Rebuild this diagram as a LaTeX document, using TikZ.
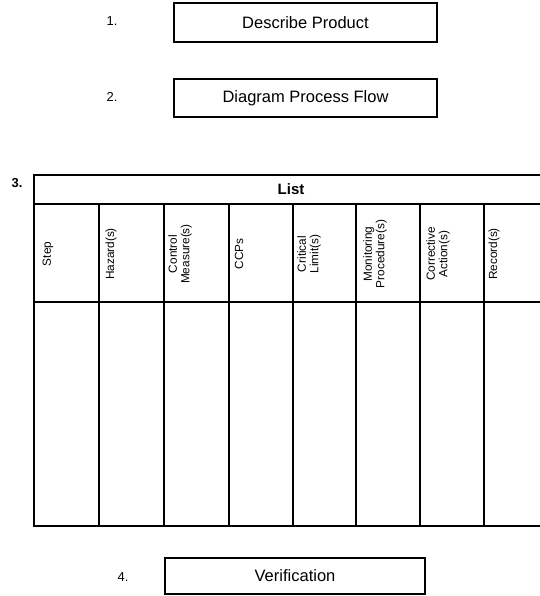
\documentclass[tikz,border=0pt]{standalone}
\usepackage{fontspec}
\setmainfont{Liberation Sans}
\usetikzlibrary{positioning}

\begin{document}
\begin{tikzpicture}[x=1pt,y=-1pt,
  stepbox/.style={draw, line width=2.4pt, inner sep=0pt, font=\fontsize{16.5}{19}\selectfont},
  numlabel/.style={font=\fontsize{13}{15}\selectfont},
  colhead/.style={rotate=90, align=center, inner sep=0pt, font=\fontsize{11.8}{12.5}\selectfont},
  grid/.style={line width=2.2pt}]
\useasboundingbox (0,0) rectangle (539,596);
\node[stepbox, minimum width=263pt, minimum height=39pt] (describe) at (305.5,22.5) {Describe Product};
\node[stepbox, minimum width=263pt, minimum height=38pt] (diagram) at (305.5,98) {Diagram Process Flow};
\node[stepbox, minimum width=260pt, minimum height=36pt] (verify) at (295,576) {Verification};
\node[numlabel] (n1) at (112,21) {1.};
\node[numlabel] (n2) at (112,97) {2.};
\node[numlabel] (n4) at (123,577) {4.};
\node[numlabel, font=\fontsize{13}{15}\selectfont\bfseries] (n3) at (17,183) {3.};
% the list table
\draw[grid] (548,175) -- (34,175) -- (34,526) -- (548,526);
\draw[grid] (34,204) -- (548,204);
\draw[grid] (34,302) -- (548,302);
\foreach \x in {99,164,229,293,356,420,484}
  \draw[grid] (\x,204) -- (\x,526);
\node[font=\fontsize{15}{17}\selectfont\bfseries] (list) at (291,189) {List};
\node[colhead] (step) at (48,254) {Step};
\node[colhead] (hazard) at (111,254) {Hazard(s)};
\node[colhead] (control) at (180,254) {Control\\Measure(s)};
\node[colhead] (ccp) at (239,254) {CCPs};
\node[colhead] (limit) at (309,254) {Critical\\Limit(s)};
\node[colhead] (monitor) at (375,254) {Monitoring\\Procedure(s)};
\node[colhead] (action) at (438,254) {Corrective\\Action(s)};
\node[colhead] (record) at (494,254) {Record(s)};
\end{tikzpicture}
\end{document}
